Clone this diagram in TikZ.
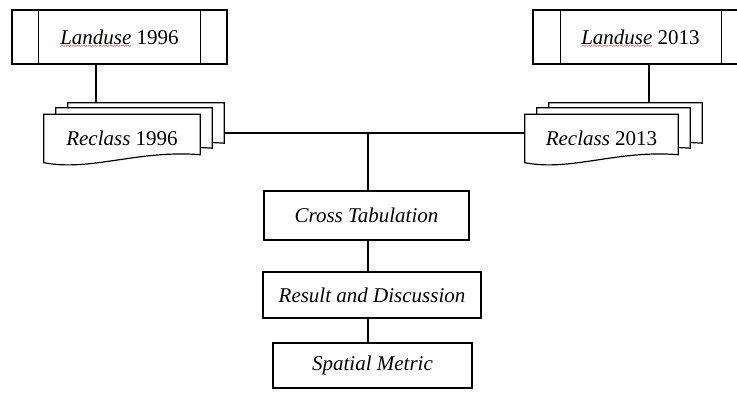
\documentclass[tikz,border=0pt]{standalone}
\usepackage{fontspec}
\setmainfont{Liberation Serif}
\usetikzlibrary{calc,backgrounds}
\newsavebox\wbox
\newcommand\redwave[1]{\sbox\wbox{#1}\rlap{\raisebox{-5pt}[0pt][0pt]{\color{red}\fontsize{10}{10}\selectfont\hbox to \wd\wbox{\xleaders\hbox{\symbol{126}}\hfil}}}\usebox\wbox}
\tikzset{
  every node/.style={font=\fontsize{21}{25}\selectfont},
  ln/.style={line width=1.2pt, black},
  boxn/.style={draw, line width=1.2pt, rectangle, inner sep=0pt, fill=white},
  docbox/.style={rectangle, inner sep=0pt, minimum width=156pt, minimum height=48pt},
  docbox2/.style={docbox, minimum width=153pt},
  docpath/.style={line width=1.2pt, fill=white},
}
\newcommand\docshape[1]{%
  \draw[docpath] (#1.north west) -- (#1.north east) -- ([yshift=8pt]#1.south east)
    .. controls ($(#1.south west)!0.6!(#1.south east)+(0pt,13pt)$)
    and ($(#1.south west)!0.3!(#1.south east)+(0pt,-9pt)$) .. (#1.south west) -- cycle;}
\begin{document}
\begin{tikzpicture}[x=1pt,y=-1pt]
\useasboundingbox (0,0) rectangle (737,397);
\clip (0,0) rectangle (737,397);

% top boxes
\node[boxn, minimum width=215pt, minimum height=54pt] (L1) at (119.5,37) {\redwave{\textit{Landuse}} 1996};
\draw[ln] ([xshift=27pt]L1.north west) -- ([xshift=27pt]L1.south west);
\draw[ln] ([xshift=-27pt]L1.north east) -- ([xshift=-27pt]L1.south east);

\node[boxn, minimum width=215pt, minimum height=54pt] (L2) at (640.5,37) {\redwave{\textit{Landuse}} 2013};
\draw[ln] ([xshift=28pt]L2.north west) -- ([xshift=28pt]L2.south west);
\draw[ln] ([xshift=-27pt]L2.north east) -- ([xshift=-27pt]L2.south east);

% multidocuments
\node[docbox] (R1c) at (146,127) {};
\node[docbox] (R1b) at (134,132) {};
\node[docbox] (R1a) at (122,138.5) {\textit{Reclass} 1996};
\node[docbox2] (R2c) at (625.5,127) {};
\node[docbox2] (R2b) at (613.5,132) {};
\node[docbox2] (R2a) at (601.5,138.5) {\textit{Reclass} 2013};
\begin{scope}[on background layer]
  \fill[white] (0,0) rectangle (737,397);
  \docshape{R1c}\docshape{R1b}\docshape{R1a}
  \docshape{R2c}\docshape{R2b}\docshape{R2a}
\end{scope}

% process boxes
\node[boxn, minimum width=205pt, minimum height=49pt] (CT) at (366.5,215.5) {\textit{Cross Tabulation}};
\node[boxn, minimum width=218pt, minimum height=46pt] (RD) at (372,295) {\textit{Result and Discussion}};
\node[boxn, minimum width=199pt, minimum height=45pt] (SM) at (372.5,365.5) {\textit{Spatial Metric}};

% connectors
\coordinate (J) at (368,133);
\draw[ln] ([xshift=-23.5pt]L1.south) -- ([xshift=-23.5pt]L1.south |- R1c.north);
\draw[ln] ([xshift=8.5pt]L2.south) -- ([xshift=8.5pt]L2.south |- R2c.north);
\draw[ln] (J -| R1c.east) -- (J -| R2a.west);
\draw[ln] (J) -- (J |- CT.north);
\draw[ln] (J |- CT.south) -- (J |- RD.north);
\draw[ln] (J |- RD.south) -- (J |- SM.north);
\end{tikzpicture}
\end{document}
